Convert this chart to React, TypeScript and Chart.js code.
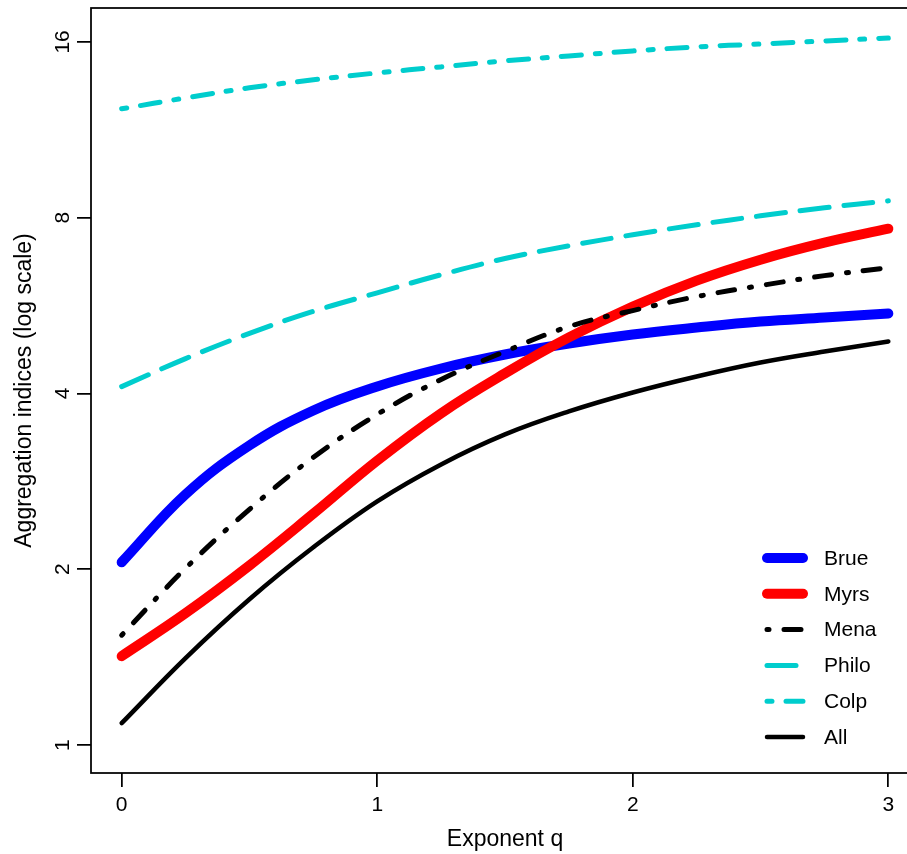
import React, { useEffect, useRef } from "react";
import { Chart, registerables } from "chart.js";

Chart.register(...registerables);

const qValues = [0, 0.25, 0.5, 0.75, 1, 1.25, 1.5, 1.75, 2, 2.25, 2.5, 2.75, 3];
const brue = [2.056, 2.687, 3.26, 3.741, 4.112, 4.414, 4.665, 4.871, 5.047, 5.187, 5.311, 5.396, 5.482];
const myrs = [1.42, 1.682, 2.03, 2.49, 3.07, 3.7, 4.33, 4.99, 5.635, 6.243, 6.78, 7.25, 7.661];
const mena = [1.542, 2.008, 2.533, 3.109, 3.683, 4.227, 4.72, 5.208, 5.547, 5.861, 6.121, 6.366, 6.57];
const philo = [4.11, 4.59, 5.07, 5.53, 5.95, 6.39, 6.81, 7.16, 7.48, 7.78, 8.06, 8.32, 8.55];
const colp = [12.29, 12.83, 13.35, 13.78, 14.16, 14.5, 14.85, 15.14, 15.44, 15.69, 15.87, 16.06, 16.25];
const all = [1.09, 1.409, 1.777, 2.181, 2.614, 3.024, 3.404, 3.727, 4.016, 4.278, 4.52, 4.72, 4.911];

const seriesLabels = ["Brue", "Myrs", "Mena", "Philo", "Colp", "All"];
const xTicks = [0, 1, 2, 3];
const yTicks = [1, 2, 4, 8, 16];

const FONT = '"Liberation Sans", Arial, Helvetica, sans-serif';

const toPoints = (vals: number[]) => vals.map((v, i) => ({ x: qValues[i], y: v }));

const boxPlugin = {
  id: "rBox",
  afterDraw(chart: any) {
    const { ctx, chartArea } = chart;
    ctx.save();
    ctx.strokeStyle = "#000";
    ctx.lineWidth = 1.75;
    ctx.setLineDash([]);
    ctx.strokeRect(chartArea.left, chartArea.top, chartArea.right - chartArea.left, chartArea.bottom - chartArea.top);
    ctx.restore();
  },
};

const legendPlugin = {
  id: "rLegend",
  afterDatasetsDraw(chart: any) {
    const ctx = chart.ctx;
    const top = 558;
    const step = 35.8;
    chart.data.datasets.forEach((ds: any, i: number) => {
      const y = top + i * step;
      ctx.save();
      ctx.strokeStyle = ds.borderColor;
      ctx.lineWidth = ds.borderWidth;
      ctx.lineCap = "round";
      ctx.setLineDash(ds.borderDash || []);
      ctx.beginPath();
      ctx.moveTo(767, y);
      ctx.lineTo(803, y);
      ctx.stroke();
      ctx.setLineDash([]);
      ctx.fillStyle = "#000";
      ctx.font = `21px ${FONT}`;
      ctx.textBaseline = "middle";
      ctx.textAlign = "left";
      ctx.fillText(ds.label, 824, y + 1);
      ctx.restore();
    });
  },
};

export default function App() {
  const ref = useRef<HTMLCanvasElement | null>(null);

  useEffect(() => {
    document.body.style.margin = "0";
    const canvas = ref.current;
    if (!canvas) return;
    const common = {
      pointRadius: 0,
      fill: false,
      borderCapStyle: "round",
      borderJoinStyle: "round",
      tension: 0.4,
    };
    const chart = new Chart(canvas, {
      type: "line",
      data: {
        datasets: [
          { ...common, label: seriesLabels[0], data: toPoints(brue), borderColor: "#0000FF", borderWidth: 10, order: 6 },
          { ...common, label: seriesLabels[1], data: toPoints(myrs), borderColor: "#FF0000", borderWidth: 10, order: 5 },
          { ...common, label: seriesLabels[2], data: toPoints(mena), borderColor: "#000000", borderWidth: 5, borderDash: [2, 15, 17, 15], order: 4 },
          { ...common, label: seriesLabels[3], data: toPoints(philo), borderColor: "#00CDCD", borderWidth: 5, borderDash: [29, 15], order: 3 },
          { ...common, label: seriesLabels[4], data: toPoints(colp), borderColor: "#00CDCD", borderWidth: 5, borderDash: [5, 14, 20, 14], order: 2 },
          { ...common, label: seriesLabels[5], data: toPoints(all), borderColor: "#000000", borderWidth: 4.5, order: 1 },
        ] as any,
      },
      options: {
        responsive: false,
        animation: false,
        devicePixelRatio: 1,
        layout: { padding: { left: 0, right: 1, top: 8, bottom: 0 } },
        plugins: {
          legend: { display: false },
          tooltip: { enabled: false },
          title: { display: false },
        },
        scales: {
          x: {
            type: "linear",
            min: -0.12,
            max: 3.12,
            afterBuildTicks: (scale: any) => {
              scale.ticks = xTicks.map((v) => ({ value: v }));
            },
            afterFit: (scale: any) => {
              scale.height = 81;
              scale.paddingLeft = 0;
              scale.paddingRight = 0;
            },
            grid: { drawOnChartArea: false, drawTicks: true, tickLength: 14, color: "#000", lineWidth: 1.75 },
            border: { display: false },
            ticks: {
              color: "#000",
              font: { family: FONT, size: 21 },
              padding: 6,
              maxRotation: 0,
              autoSkip: false,
              callback: (v: any) => String(v),
            },
            title: {
              display: true,
              text: "Exponent q",
              color: "#000",
              font: { family: FONT, size: 23 },
              padding: { top: 0, bottom: 1 },
            },
          },
          y: {
            type: "logarithmic",
            min: Math.pow(2, -0.159),
            max: Math.pow(2, 4.193),
            afterBuildTicks: (scale: any) => {
              scale.ticks = yTicks.map((v) => ({ value: v }));
            },
            afterFit: (scale: any) => {
              scale.width = 91;
              scale.paddingTop = 0;
              scale.paddingBottom = 0;
            },
            grid: { drawOnChartArea: false, drawTicks: true, tickLength: 14, color: "#000", lineWidth: 1.75 },
            border: { display: false },
            ticks: {
              color: "#000",
              font: { family: FONT, size: 21 },
              padding: 2,
              minRotation: 90,
              maxRotation: 90,
              crossAlign: "center",
              autoSkip: false,
              callback: (v: any) => String(v),
            },
            title: {
              display: true,
              text: "Aggregation indices (log scale)",
              color: "#000",
              font: { family: FONT, size: 23 },
              padding: { top: 11, bottom: 0 },
            },
          },
        },
      } as any,
      plugins: [boxPlugin, legendPlugin],
    });
    return () => chart.destroy();
  }, []);

  return (
    <div style={{ position: "fixed", left: 0, top: 0, width: 907, height: 854, overflow: "hidden", background: "#fff" }}>
      <canvas ref={ref} width={920} height={854} style={{ display: "block", width: 920, height: 854 }} />
    </div>
  );
}
